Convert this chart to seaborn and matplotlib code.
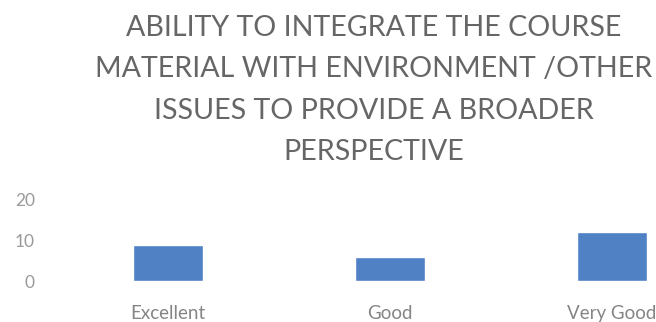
import matplotlib
matplotlib.use("Agg")
import matplotlib.pyplot as plt
import seaborn as sns
import pandas as pd

categories = ["Excellent", "Good", "Very Good"]
values = [9, 6, 12]
yticks = [0, 10, 20]
title_lines = ["ABILITY TO INTEGRATE THE COURSE",
               "MATERIAL WITH ENVIRONMENT /OTHER",
               "ISSUES TO PROVIDE A BROADER",
               "PERSPECTIVE"]

sns.set_theme(style="white")
plt.rcParams["font.family"] = ["Lato", "DejaVu Sans"]

df = pd.DataFrame({"category": categories, "value": values})

fig = plt.figure(figsize=(6.56, 3.22), dpi=100)
ax = fig.add_axes([57/656, (322-281)/322, 666/656, 81/322])
sns.barplot(data=df, x="category", y="value", color="#4f81c4", width=0.315,
            saturation=1, ax=ax)
ax.set_ylim(0, 20)
ax.set_yticks(yticks)
ax.set_yticklabels([str(t) for t in yticks])
ax.set_xlabel("")
ax.set_ylabel("")
for s in ax.spines.values():
    s.set_visible(False)
ax.tick_params(axis="y", length=0, pad=16, labelsize=12.5, labelcolor="#9a9a9a")
ax.tick_params(axis="x", length=0, pad=17, labelsize=13.5, labelcolor="#858585")

for i, line in enumerate(title_lines):
    fig.text(374/656, 1 - (28 + 41.3*i)/322, line, ha="center", va="center",
             fontsize=20.6, color="#666666")

fig.savefig("out.png", dpi=100)
